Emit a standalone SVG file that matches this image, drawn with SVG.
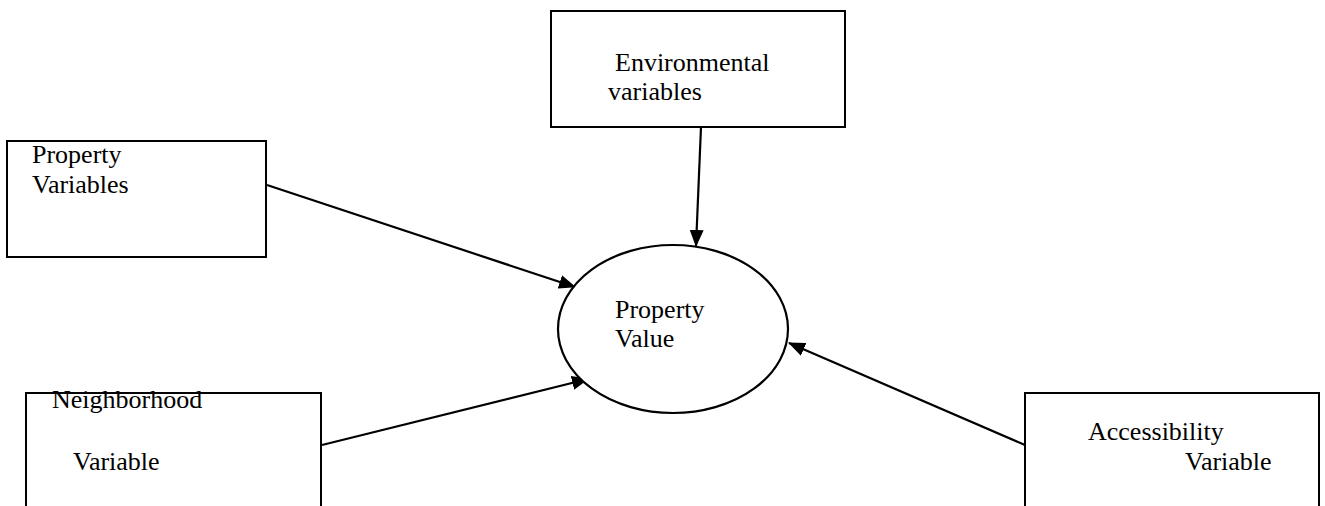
<svg xmlns="http://www.w3.org/2000/svg" width="1325" height="506" viewBox="0 0 1325 506">
<style>
.box{fill:#fff;stroke:#000;stroke-width:2}
.ell{fill:#fff;stroke:#000;stroke-width:2.2}
.lbl{font-family:"Liberation Serif","Times New Roman",serif;font-size:26px;fill:#000}
.conn line{stroke:#000;stroke-width:2.2;fill:none}
</style>
<defs>
<marker id="arr" markerUnits="userSpaceOnUse" markerWidth="18" markerHeight="14" refX="16" refY="7" orient="auto">
<path d="M0,0 L17,7 L0,14 z" fill="#000"/>
</marker>
</defs>
<rect width="1325" height="506" fill="#fff"/>
<g class="conn">
<line x1="701" y1="127" x2="696" y2="246" marker-end="url(#arr)"/>
<line x1="267" y1="185" x2="575" y2="287" marker-end="url(#arr)"/>
<line x1="322" y1="445" x2="588" y2="379" marker-end="url(#arr)"/>
<line x1="1025" y1="445" x2="789" y2="343" marker-end="url(#arr)"/>
</g>
<g id="environmental">
<rect class="box" x="551" y="11" width="294" height="116"/>
<text class="lbl" x="615" y="71">Environmental</text>
<text class="lbl" x="608" y="100">variables</text>
</g>
<g id="property-variables">
<rect class="box" x="7" y="141" width="259" height="116"/>
<text class="lbl" x="32" y="163">Property</text>
<text class="lbl" x="32" y="193">Variables</text>
</g>
<g id="property-value">
<ellipse class="ell" cx="673" cy="329" rx="115" ry="84"/>
<text class="lbl" x="615" y="318">Property</text>
<text class="lbl" x="615" y="347">Value</text>
</g>
<g id="neighborhood">
<rect class="box" x="26" y="393" width="295" height="130"/>
<text class="lbl" x="52" y="408">Neighborhood</text>
<text class="lbl" x="73" y="470">Variable</text>
</g>
<g id="accessibility">
<rect class="box" x="1025" y="393" width="294" height="130"/>
<text class="lbl" x="1088" y="440">Accessibility</text>
<text class="lbl" x="1185" y="470">Variable</text>
</g>
</svg>
